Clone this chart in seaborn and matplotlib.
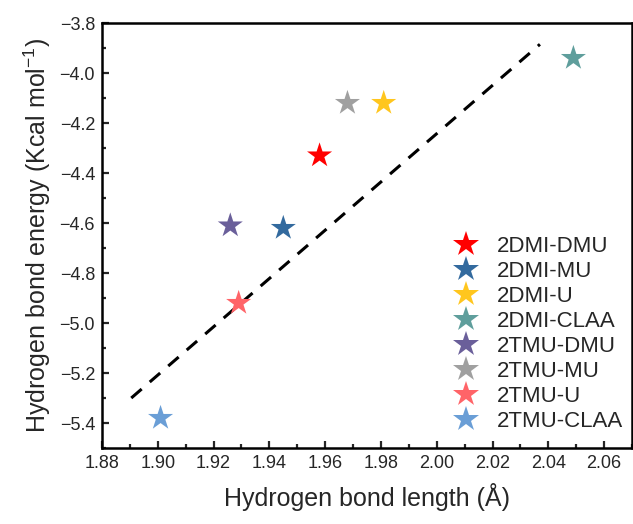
import matplotlib
matplotlib.use("Agg")
import matplotlib.pyplot as plt
import seaborn as sns
import pandas as pd
from matplotlib.ticker import MultipleLocator

labels = ["2DMI-DMU", "2DMI-MU", "2DMI-U", "2DMI-CLAA",
          "2TMU-DMU", "2TMU-MU", "2TMU-U", "2TMU-CLAA"]
bond_length = [1.958, 1.945, 1.981, 2.049, 1.926, 1.968, 1.929, 1.901]
bond_energy = [-4.33, -4.62, -4.12, -3.94, -4.61, -4.12, -4.92, -5.38]
colors = ["#FF0000", "#336A9E", "#FFC61E", "#5F9E9C",
          "#6A5F9A", "#A0A0A0", "#FF6468", "#6A9ED6"]
fit_x = [1.8905, 2.037]
fit_y = [-5.30, -3.885]

sns.set_theme(style="white")
plt.rcParams["font.family"] = ["Liberation Sans", "DejaVu Sans"]
plt.rcParams["mathtext.fontset"] = "custom"
plt.rcParams["mathtext.rm"] = "Liberation Sans"
plt.rcParams["mathtext.it"] = "Liberation Sans"
plt.rcParams["mathtext.default"] = "regular"

df = pd.DataFrame({"x": bond_length, "y": bond_energy, "label": labels})

fig = plt.figure(figsize=(6.33, 5.24), dpi=100)
ax = fig.add_axes([0.1611, 0.145, 0.8373, 0.811])

ax.plot(fit_x, fit_y, color="black", lw=2.2, linestyle=(0, (4.5, 3.5)), zorder=1)
sns.scatterplot(data=df, x="x", y="y", hue="label", hue_order=labels,
                palette=dict(zip(labels, colors)), marker="*", s=360,
                linewidth=0, edgecolor="none", ax=ax, zorder=3)

ax.set_xlim(1.88, 2.07)
ax.set_ylim(-5.5, -3.8)
ax.xaxis.set_minor_locator(MultipleLocator(0.01))
ax.yaxis.set_minor_locator(MultipleLocator(0.1))
ax.set_xticks([1.88 + 0.02 * i for i in range(10)])
ax.set_xticklabels([f"{1.88 + 0.02 * i:.2f}" for i in range(10)])
ax.set_yticks([-3.8 - 0.2 * i for i in range(9)])
ax.set_yticklabels([f"\u2212{3.8 + 0.2 * i:.1f}" for i in range(9)])

ax.tick_params(which="both", direction="in", top=False, right=False,
               left=True, bottom=True, width=1.6)
ax.tick_params(which="major", length=5, labelsize=13, pad=5)
ax.tick_params(which="minor", length=3)
for sp in ax.spines.values():
    sp.set_linewidth(1.8)
    sp.set_color("black")

ax.set_xlabel("Hydrogen bond length (Å)", fontsize=18, labelpad=8)
ax.set_ylabel("Hydrogen bond energy (Kcal mol$^{-1}$)", fontsize=18, labelpad=5)

ax.legend(frameon=False, loc="lower right", bbox_to_anchor=(1.008, 0.006),
          fontsize=16, handletextpad=0.9, labelspacing=0.18, borderaxespad=0.2,
          handlelength=1.0)

fig.savefig("out.png", dpi=100)
